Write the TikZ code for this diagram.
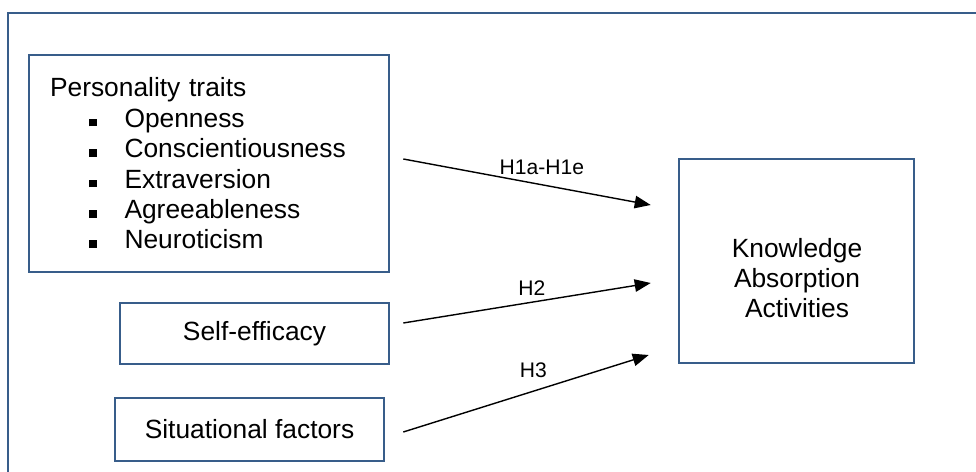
\documentclass[tikz,border=0pt]{standalone}
\usepackage{fontspec}
\setmainfont{Liberation Sans}
\usetikzlibrary{arrows.meta,calc}
\definecolor{boxblue}{RGB}{56,93,138}
\newcommand{\sqbul}{\rule[0.02cm]{0.15cm}{0.15cm}}

\begin{document}
\begin{tikzpicture}[x=0.02cm,y=-0.02cm,
    box/.style={draw=boxblue, line width=1.5pt, rectangle, inner sep=0pt,
      font=\fontsize{15}{17.3}\selectfont},
    hyp/.style={-{Triangle[length=0.32cm,width=0.25cm]}, line width=0.8pt},
    lbl/.style={font=\fontsize{12}{14}\selectfont}]

    \clip (0,0) rectangle (976,472);
    \draw[boxblue, line width=1.5pt] (8,13) rectangle (1000,500);

    \node[box, minimum width=7.2cm, minimum height=4.34cm, text width=6.36cm, align=left] (P) at (209,163.5) {Personality traits\\
        \hspace*{0.78cm}\sqbul\hspace*{0.56cm}Openness\\
        \hspace*{0.78cm}\sqbul\hspace*{0.56cm}Conscientiousness\\
        \hspace*{0.78cm}\sqbul\hspace*{0.56cm}Extraversion\\
        \hspace*{0.78cm}\sqbul\hspace*{0.56cm}Agreeableness\\
        \hspace*{0.78cm}\sqbul\hspace*{0.56cm}Neuroticism};
    \node[box, minimum width=5.38cm, minimum height=1.22cm] (S) at (254.5,333.5) {Self-efficacy};
    \node[box, minimum width=5.38cm, minimum height=1.26cm] (F) at (249.5,429.5) {Situational factors};
    \node[box, minimum width=4.7cm, minimum height=4.08cm] (K) at (796.5,261) {};
    \node[box, draw=none, align=center] (KT) at (797,278) {Knowledge\\Absorption\\Activities};

    \draw[hyp] ([shift={(13,-4.5)}]P.east) -- node[lbl, above=2pt, pos=0.56] {H1a-H1e} ([shift={(-27,-56)}]K.west);
    \draw[hyp] ([shift={(13,-10.5)}]S.east) -- node[lbl, above, pos=0.52] {H2} ([shift={(-27,22)}]K.west);
    \draw[hyp] ([shift={(18,2.5)}]F.east) -- node[lbl, above=4pt, pos=0.53] {H3} ([shift={(-29,94)}]K.west);

\end{tikzpicture}
\end{document}
